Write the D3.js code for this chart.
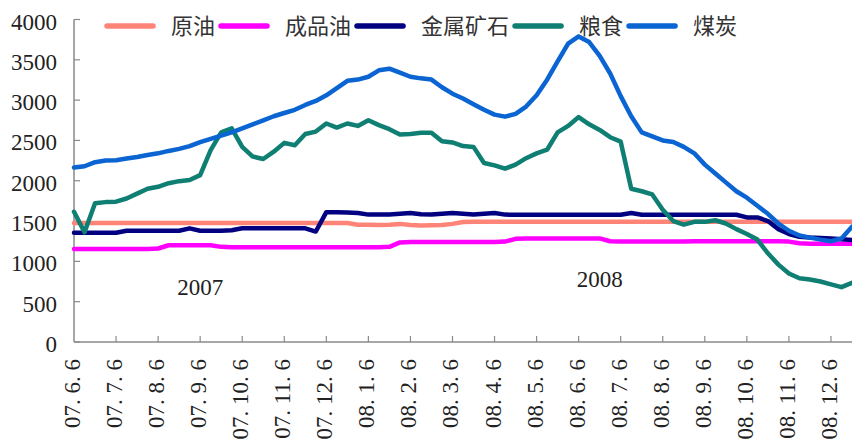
<!DOCTYPE html>
<html>
<head>
<meta charset="utf-8">
<script src="https://cdn.jsdelivr.net/npm/d3@7"></script>
<style>
html,body{margin:0;padding:0;background:#fff;}
svg{display:block;}
</style>
</head>
<body>
<svg id="chart" width="852" height="441"></svg>
<script>
// ---- data (4 samples per month, first sample = 07.6.6) ----
const tickLabels = ["07. 6. 6","07. 7. 6","07. 8. 6","07. 9. 6","07. 10. 6","07. 11. 6","07. 12. 6",
  "08. 1. 6","08. 2. 6","08. 3. 6","08. 4. 6","08. 5. 6","08. 6. 6","08. 7. 6","08. 8. 6",
  "08. 9. 6","08. 10. 6","08. 11. 6","08. 12. 6"];
const yTicks = [0,500,1000,1500,2000,2500,3000,3500,4000];
const seriesNames = ["原油","成品油","金属矿石","粮食","煤炭"];
const seriesColors = ["#FF8478","#FF00FF","#000080","#0E7F72","#0A64D2"];

const crudeOil = [1475,1475,1475,1475,1475,1475,1475,1475,1475,1475,1475,1475,1475,1475,1475,1475,
  1475,1475,1475,1475,1475,1475,1475,1475,1475,1475,1475,1455,1455,1450,1455,1465,1450,1445,1448,1450,
  1465,1488,1490,1490,1490,1490,1490,1490,1490,1490,1490,1490,1490,1490,1490,1490,1490,1490,1490,1490,
  1490,1490,1490,1490,1490,1490,1490,1490,1490,1490,1490,1490,1490,1490,1490,1490,1490,1490,1490];
const refinedOil = [1155,1155,1155,1155,1155,1155,1155,1155,1160,1200,1200,1200,1200,1200,1180,1175,
  1175,1175,1175,1175,1175,1175,1175,1175,1175,1175,1175,1175,1175,1175,1180,1235,1240,1240,1240,1240,
  1240,1240,1240,1240,1240,1245,1280,1285,1285,1285,1285,1285,1285,1285,1285,1250,1245,1245,1245,1245,
  1245,1245,1245,1250,1250,1250,1250,1250,1250,1250,1250,1250,1245,1225,1220,1220,1220,1220,1220];
const metalOre = [1355,1355,1355,1355,1355,1380,1380,1380,1380,1380,1380,1410,1380,1380,1380,1385,
  1410,1410,1410,1410,1410,1410,1410,1370,1610,1610,1605,1600,1580,1580,1580,1590,1600,1585,1580,1590,
  1600,1590,1580,1590,1600,1580,1578,1578,1578,1578,1578,1578,1578,1578,1578,1578,1578,1600,1578,1578,
  1578,1578,1578,1578,1578,1578,1578,1578,1545,1545,1500,1400,1340,1305,1295,1290,1285,1275,1265];
const grain = [1615,1360,1720,1735,1740,1780,1840,1900,1925,1970,1995,2010,2070,2380,2600,2650,
  2420,2300,2270,2360,2470,2440,2580,2610,2710,2660,2710,2680,2750,2690,2640,2575,2580,2595,2595,2490,
  2475,2430,2420,2220,2190,2150,2200,2280,2340,2385,2600,2680,2790,2700,2630,2540,2485,1900,1870,1830,
  1640,1500,1455,1490,1490,1510,1470,1400,1340,1270,1100,960,850,790,775,750,715,680,735];
const coal = [2165,2180,2230,2250,2255,2275,2295,2320,2340,2370,2395,2430,2480,2520,2560,2600,
  2650,2700,2750,2800,2840,2880,2940,2990,3060,3150,3240,3255,3290,3370,3390,3340,3290,3270,3255,3160,
  3080,3020,2950,2880,2820,2795,2830,2920,3060,3254,3480,3700,3790,3720,3550,3330,3050,2800,2600,2550,
  2500,2480,2420,2340,2200,2090,1980,1870,1790,1690,1590,1470,1380,1320,1295,1270,1250,1285,1430];
const yearLabels = ["2007","2008"];
const yearIndex = [12, 50]; // position in samples
const yearValue = [585, 685];

const seriesData = [crudeOil, refinedOil, metalOre, grain, coal];

// ---- layout ----
const svg = d3.select("#chart");
const plotLeft = 74, plotRight = 852, plotTop = 19.5, plotBottom = 342;
const nPts = coal.length;
const x = d3.scaleLinear().domain([0, nPts - 1]).range([plotLeft, plotRight]);
const y = d3.scaleLinear().domain([0, 4000]).range([plotBottom, plotTop]);
const serif = "'Liberation Serif','DejaVu Serif',serif";
const cjk = "'Noto Sans CJK SC','Noto Sans CJK JP',sans-serif";
const axisColor = "#8a8a8a";

// axes
svg.append("line").attr("x1", plotLeft).attr("x2", plotLeft).attr("y1", plotTop).attr("y2", plotBottom)
  .attr("stroke", axisColor).attr("stroke-width", 1.5);
svg.append("line").attr("x1", plotLeft).attr("x2", plotRight).attr("y1", plotBottom).attr("y2", plotBottom)
  .attr("stroke", axisColor).attr("stroke-width", 1.5);

// y ticks (inward)
const yg = svg.append("g");
yTicks.forEach(v => {
  yg.append("line").attr("x1", plotLeft).attr("x2", plotLeft + 6).attr("y1", y(v)).attr("y2", y(v))
    .attr("stroke", axisColor).attr("stroke-width", 1.2);
  yg.append("text").attr("x", 57).attr("y", y(v) + 10).attr("text-anchor", "end")
    .attr("font-family", serif).attr("font-size", 23).attr("fill", "#222").text(v);
});

// x ticks (inward) and rotated labels
const xg = svg.append("g");
tickLabels.forEach((lab, k) => {
  const xp = x(k * 4);
  if (k > 0) {
    xg.append("line").attr("x1", xp).attr("x2", xp).attr("y1", plotBottom).attr("y2", plotBottom - 6)
      .attr("stroke", axisColor).attr("stroke-width", 1.2);
  }
  xg.append("text")
    .attr("transform", `translate(${xp + 6},359) rotate(-90)`)
    .attr("text-anchor", "end")
    .attr("font-family", serif).attr("font-size", 23).attr("fill", "#222")
    .text(lab);
});

// year annotations
yearLabels.forEach((t, i) => {
  svg.append("text").attr("x", x(yearIndex[i])).attr("y", y(yearValue[i]))
    .attr("text-anchor", "middle").attr("font-family", serif).attr("font-size", 23)
    .attr("fill", "#222").text(t);
});

// lines
const line = d3.line().x((d, i) => x(i)).y(d => y(d));
seriesData.forEach((arr, s) => {
  svg.append("path").datum(arr).attr("d", line).attr("fill", "none")
    .attr("stroke", seriesColors[s]).attr("stroke-width", 4.5)
    .attr("stroke-linejoin", "round").attr("stroke-linecap", "round");
});

// legend
const lg = svg.append("g");
let cx = 107;
const ly = 26;
seriesNames.forEach((name, s) => {
  lg.append("line").attr("x1", cx).attr("x2", cx + 46).attr("y1", ly).attr("y2", ly)
    .attr("stroke", seriesColors[s]).attr("stroke-width", 5.5).attr("stroke-linecap", "round");
  const t = lg.append("text").attr("x", cx + 64).attr("y", ly + 8)
    .attr("font-family", cjk).attr("font-size", 22).attr("fill", "#333").text(name);
  const w = t.node().getComputedTextLength();
  cx = cx + 64 + w + 6;
});
</script>
</body>
</html>
